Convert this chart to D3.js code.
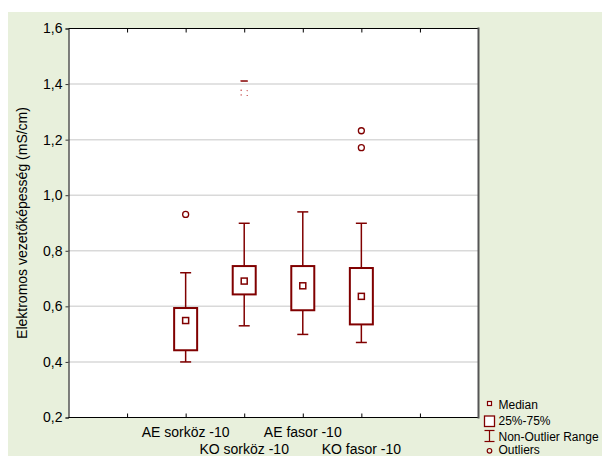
<!DOCTYPE html>
<html>
<head>
<meta charset="utf-8">
<script src="https://cdn.jsdelivr.net/npm/d3@7"></script>
<style>
  html, body { margin: 0; padding: 0; background: #ffffff; }
  svg { display: block; font-family: "Liberation Sans", Arial, sans-serif; }
</style>
</head>
<body>
<svg id="chart" width="602" height="456"></svg>
<script>
// ---- data ----
const categories = ["AE sorköz -10", "KO sorköz -10", "AE fasor -10", "KO fasor -10"];
const positions = [2, 3, 4, 5];
const q1 = [0.442, 0.643, 0.586, 0.535];
const q3 = [0.594, 0.745, 0.745, 0.738];
const medians = [0.549, 0.691, 0.674, 0.636];
const whiskerLow = [0.400, 0.530, 0.499, 0.470];
const whiskerHigh = [0.721, 0.899, 0.940, 0.899];
const outliers = [[0.931], [1.411, 1.377, 1.360], [], [1.232, 1.171]];
const yTicks = [0.2, 0.4, 0.6, 0.8, 1.0, 1.2, 1.4, 1.6];
const xTicks = [1, 2, 3, 4, 5, 6];
const yTitle = "Elektromos vezetőképesség (mS/cm)";
const legendLabels = ["Median", "25%-75%", "Non-Outlier Range", "Outliers"];

// ---- layout ----
const FONT = "'Liberation Sans', Arial, sans-serif";
const svg = d3.select("#chart");
const L = 68.5, R = 478.5, T = 28.5, B = 417.5;
const red = "#800000";
const x = d3.scaleLinear().domain([0, 7]).range([L, R]);
const y = d3.scaleLinear().domain([0.2, 1.6]).range([B, T]);
const fmt = d => d3.format(".1f")(d).replace(".", ",");

svg.append("rect").attr("x", 8).attr("y", 12).attr("width", 594).attr("height", 444).attr("fill", "#e8f0dc");
svg.append("rect").attr("x", L).attr("y", T).attr("width", R - L).attr("height", B - T).attr("fill", "#ffffff");

// gridlines
svg.append("g").selectAll("line").data(yTicks.filter(d => d > 0.21 && d < 1.59)).join("line")
  .attr("x1", L).attr("x2", R).attr("y1", d => y(d)).attr("y2", d => y(d))
  .attr("stroke", "#d9d9d9").attr("stroke-width", 1.5);

// y axis
const yAxis = d3.axisLeft(y).tickValues(yTicks).tickFormat(fmt).tickSize(3).tickPadding(3);
const gy = svg.append("g").attr("transform", `translate(${L},0)`).call(yAxis);
gy.select(".domain").attr("stroke", "#000");
gy.selectAll(".tick line").attr("stroke", "#333");
gy.selectAll("text").attr("font-size", 14).attr("fill", "#000").attr("font-family", FONT);

// x axis (bottom ticks inward, top ticks inward)
const xAxisB = d3.axisBottom(x).tickValues(xTicks).tickSize(-4).tickFormat("");
const gxb = svg.append("g").attr("transform", `translate(0,${B})`).call(xAxisB);
gxb.select(".domain").remove();
gxb.selectAll(".tick line").attr("stroke", "#000");
const xAxisT = d3.axisTop(x).tickValues(xTicks).tickSize(-4).tickFormat("");
const gxt = svg.append("g").attr("transform", `translate(0,${T})`).call(xAxisT);
gxt.select(".domain").remove();
gxt.selectAll(".tick line").attr("stroke", "#000");

// frame
svg.append("line").attr("x1", L).attr("x2", R).attr("y1", T).attr("y2", T).attr("stroke", "#000");
svg.append("line").attr("x1", L).attr("x2", R).attr("y1", B).attr("y2", B).attr("stroke", "#000");
svg.append("line").attr("x1", R).attr("x2", R).attr("y1", T - 1).attr("y2", B + 1).attr("stroke", "#555").attr("stroke-width", 2);

// category labels (staggered)
svg.append("g").selectAll("text").data(categories).join("text")
  .attr("x", (d, i) => x(positions[i]))
  .attr("y", (d, i) => i % 2 === 0 ? 437 : 454)
  .attr("text-anchor", "middle").attr("font-size", 14).attr("fill", "#000").attr("font-family", FONT)
  .text(d => d);

// y title
svg.append("text").attr("transform", `translate(27,${(T + B) / 2}) rotate(-90)`)
  .attr("text-anchor", "middle").attr("font-size", 14).attr("fill", "#000").attr("font-family", FONT).text(yTitle);

// boxes
const boxW = 23, capW = 11, medS = 6;
const g = svg.append("g");
categories.forEach((c, i) => {
  const cx = x(positions[i]);
  g.append("line").attr("x1", cx).attr("x2", cx).attr("y1", y(whiskerHigh[i])).attr("y2", y(q3[i]))
    .attr("stroke", red).attr("stroke-width", 1.5);
  g.append("line").attr("x1", cx).attr("x2", cx).attr("y1", y(q1[i])).attr("y2", y(whiskerLow[i]))
    .attr("stroke", red).attr("stroke-width", 1.5);
  [whiskerHigh[i], whiskerLow[i]].forEach(v => {
    g.append("line").attr("x1", cx - capW / 2).attr("x2", cx + capW / 2).attr("y1", y(v)).attr("y2", y(v))
      .attr("stroke", red).attr("stroke-width", 1.5);
  });
  g.append("rect").attr("x", cx - boxW / 2).attr("y", y(q3[i])).attr("width", boxW).attr("height", y(q1[i]) - y(q3[i]))
    .attr("fill", "#fff").attr("stroke", red).attr("stroke-width", 2);
  g.append("rect").attr("x", cx - medS / 2).attr("y", y(medians[i]) - medS / 2).attr("width", medS).attr("height", medS)
    .attr("fill", "#fff").attr("stroke", red).attr("stroke-width", 1.5);
  outliers[i].forEach((v, k) => {
    const faint = i === 1;
    if (faint && k === 0) {
      g.append("line").attr("x1", cx - 3.5).attr("x2", cx + 3.5).attr("y1", y(v)).attr("y2", y(v))
        .attr("stroke", red).attr("stroke-width", 1.5);
    }
    g.append("circle").attr("cx", cx).attr("cy", y(v)).attr("r", 3)
      .attr("fill", "none").attr("stroke", faint ? "#c04040" : red).attr("stroke-width", 1.3)
      .attr("stroke-dasharray", faint ? "1.2,8.22" : null).attr("stroke-dashoffset", faint ? 0.6 : null);
  });
});

// legend
const lg = svg.append("g");
const lx = 489.5;
lg.append("rect").attr("x", lx - 2).attr("y", 401.5).attr("width", 4).attr("height", 4)
  .attr("fill", "#fff").attr("stroke", red).attr("stroke-width", 1.2);
lg.append("rect").attr("x", lx - 5).attr("y", 416).attr("width", 10).attr("height", 10.5)
  .attr("fill", "#fff").attr("stroke", red).attr("stroke-width", 1.3);
lg.append("line").attr("x1", lx).attr("x2", lx).attr("y1", 430.5).attr("y2", 441.5).attr("stroke", red).attr("stroke-width", 1.2);
lg.append("line").attr("x1", lx - 5).attr("x2", lx + 5).attr("y1", 430.5).attr("y2", 430.5).attr("stroke", red).attr("stroke-width", 1.2);
lg.append("line").attr("x1", lx - 5).attr("x2", lx + 5).attr("y1", 441.5).attr("y2", 441.5).attr("stroke", red).attr("stroke-width", 1.2);
lg.append("circle").attr("cx", lx).attr("cy", 450.8).attr("r", 2.3).attr("fill", "none").attr("stroke", red).attr("stroke-width", 1.2);
const lys = [409, 425, 440.5, 453.8];
lg.selectAll("text").data(legendLabels).join("text")
  .attr("x", 498.5).attr("y", (d, i) => lys[i]).attr("font-size", 12).attr("fill", "#000").attr("font-family", FONT).text(d => d);
</script>
</body>
</html>
